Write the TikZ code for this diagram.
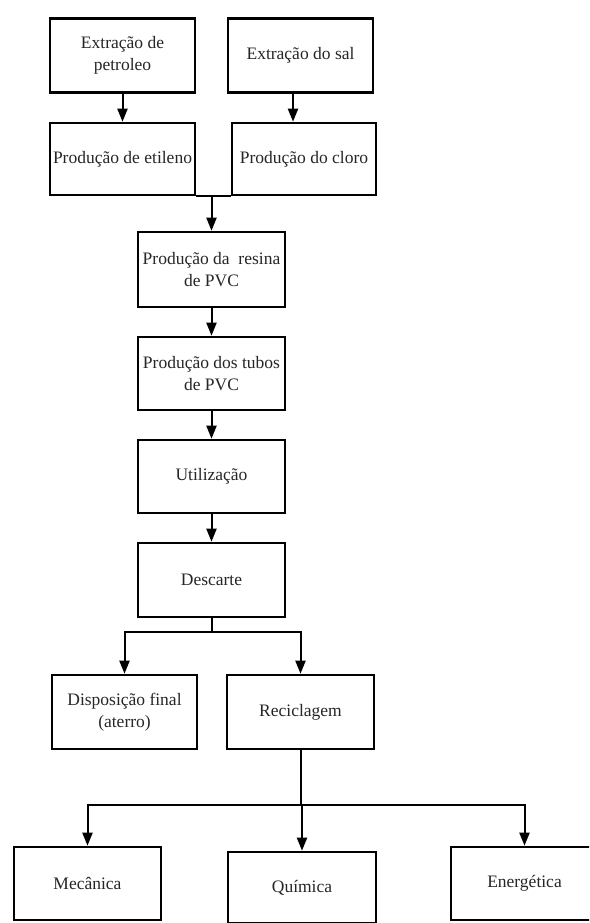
\documentclass[tikz,border=0pt]{standalone}
\usepackage{fontspec}
\setmainfont{Liberation Serif}
\usetikzlibrary{arrows.meta}
\tikzset{
  stepbox/.style={draw=black, line width=2.6pt, minimum width=145pt, minimum height=74pt,
    inner sep=0pt, align=center, text=black!85, font=\fontsize{17.5}{21.5}\selectfont},
  conn/.style={draw=black, line width=2pt},
  arr/.style={conn, -{Triangle[length=13pt,width=10pt]}},
}
\begin{document}
\begin{tikzpicture}[x=1pt,y=-1pt]
\useasboundingbox (0,0) rectangle (589,923);
\clip (0,0) rectangle (589,923);
\fill[white] (0,0) rectangle (589,923);
% top row
\node[stepbox] (extpet) at (122.5,55.5) {Extração de\\petroleo};
\node[stepbox] (extsal) at (300.5,55.5) {Extração do sal};
\node[stepbox, minimum height=72pt] (prodet) at (122.5,159) {Produção de etileno};
\node[stepbox, minimum width=144pt, minimum height=72pt] (prodcl) at (304,159) {Produção do cloro};
% central chain
\node[stepbox, minimum width=147pt, minimum height=75pt] (resina) at (211.5,269.5) {Produção da\ \ resina\\de PVC};
\node[stepbox, minimum width=147pt, minimum height=73pt] (tubos) at (211.5,373.5) {Produção dos tubos\\de PVC};
\node[stepbox, minimum width=147pt, minimum height=73pt] (util) at (211.5,476.5) {Utilização};
\node[stepbox, minimum width=147pt, minimum height=74pt] (desc) at (211.5,580) {Descarte};
% destination
\node[stepbox, minimum width=145pt] (disp) at (124.5,712) {Disposição final\\(aterro)};
\node[stepbox, minimum width=147pt] (recic) at (300.5,712) {Reciclagem};
% recycling types
\node[stepbox, minimum width=147pt, minimum height=73pt] (mec) at (87.5,883.5) {Mecânica};
\node[stepbox, minimum width=148pt, minimum height=71pt] (quim) at (302,887.5) {Química};
\node[stepbox, minimum width=147pt, minimum height=73pt] (ener) at (524.5,883.5) {Energética};
% connectors
\draw[arr] (extpet.south) -- (extpet.south |- prodet.north);
\coordinate (salx) at (293,0);
\draw[arr] (extsal.south -| salx) -- (prodcl.north -| salx);
\draw[conn] (prodet.south east) -- (prodcl.south west);
\draw[arr] (resina.north |- prodet.south) -- (resina.north);
\draw[arr] (resina.south) -- (tubos.north);
\draw[arr] (tubos.south) -- (util.north);
\draw[arr] (util.south) -- (desc.north);
\coordinate (sA) at (211.5,632);
\draw[conn] (desc.south) -- (sA);
\draw[arr] (sA) -| (disp.north);
\draw[arr] (sA) -| (recic.north);
\coordinate (sB) at (300.5,805);
\draw[conn] (recic.south) -- (sB);
\draw[arr] (sB) -| (mec.north);
\draw[arr] (sB) -| (quim.north);
\draw[arr] (sB) -| (ener.north);
\end{tikzpicture}
\end{document}
